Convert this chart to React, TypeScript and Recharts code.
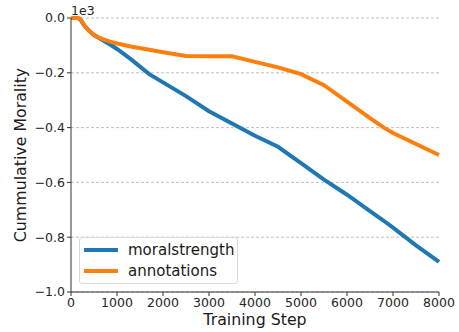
import React from 'react';
import { LineChart, Line, XAxis, YAxis, CartesianGrid } from 'recharts';

const steps = [0, 150, 200, 250, 300, 400, 500, 600, 700, 850, 1000, 1300, 1700, 2000, 2500, 3000, 3500, 4000, 4500, 5000, 5500, 6000, 6500, 6800, 7000, 7500, 8000];
// values in units of 1e3
const moralstrength = [0, 0, -0.005, -0.018, -0.03, -0.048, -0.062, -0.072, -0.082, -0.097, -0.113, -0.15, -0.205, -0.235, -0.285, -0.34, -0.385, -0.43, -0.47, -0.53, -0.59, -0.645, -0.705, -0.74, -0.765, -0.83, -0.89];
const annotations = [0, 0, -0.003, -0.016, -0.03, -0.048, -0.062, -0.071, -0.078, -0.086, -0.093, -0.104, -0.116, -0.125, -0.139, -0.14, -0.14, -0.16, -0.18, -0.205, -0.245, -0.305, -0.365, -0.4, -0.42, -0.46, -0.5];
const xTicks = [0, 1000, 2000, 3000, 4000, 5000, 6000, 7000, 8000];
const yTicks = [0, -0.2, -0.4, -0.6, -0.8, -1.0];

const seriesNames = ['moralstrength', 'annotations'];
const colors = ['#1f77b4', '#ff7f0e'];

const data = steps.map((s, i) => ({ step: s, moralstrength: moralstrength[i], annotations: annotations[i] }));

const font = 'DejaVu Sans, sans-serif';
const tickStyle = { fill: '#262626', fontSize: 12.5, fontFamily: font };
const labelSize = 15.8;

const fmtY = (v: number) => (v < 0 ? '\u2212' : '') + Math.abs(v).toFixed(1);

const LegendBox = () => (
    <div style={{
        position: 'absolute', left: 79, top: 237, width: 157, height: 45,
        border: '1px solid #d9d9d9', borderRadius: 3, background: 'rgba(255,255,255,0.8)',
        fontFamily: font, fontSize: 15, color: '#1a1a1a'
    }}>
        {seriesNames.map((n, i) => (
            <div key={n} style={{ position: 'absolute', left: 4, top: 2 + i * 21, height: 20, display: 'flex', alignItems: 'center' }}>
                <div style={{ width: 34, height: 4, background: colors[i], marginRight: 10 }} />
                <span>{n}</span>
            </div>
        ))}
    </div>
);

export default function App() {
    return (
        <div style={{ position: 'fixed', left: 0, top: 0, width: 459, height: 332, background: '#fff' }}>
            <LineChart width={459} height={332} data={data} margin={{ top: 18, right: 20, bottom: 0, left: 0 }}>
                <CartesianGrid vertical={false} stroke="#b0b0b0" strokeDasharray="3 2" strokeWidth={0.8} />
                <XAxis
                    dataKey="step" type="number" domain={[0, 8000]} ticks={xTicks}
                    height={40} tickSize={4} tickMargin={2} tick={tickStyle}
                    stroke="#333" strokeWidth={1}
                    label={{ value: 'Training Step', position: 'insideBottom', offset: 7, style: { fontSize: labelSize, fontFamily: font, fill: '#1a1a1a' } }}
                />
                <XAxis xAxisId="top" orientation="top" dataKey="step" type="number" domain={[0, 8000]} height={0} tick={false} tickLine={false} stroke="#333" />
                <YAxis
                    type="number" domain={[-1, 0]} ticks={yTicks} width={71}
                    tickSize={4} tickMargin={2} tick={tickStyle} tickFormatter={fmtY}
                    stroke="#333" strokeWidth={1}
                    label={{
                        content: (p: any) => {
                            const vb = p.viewBox || { y: 18, height: 274 };
                            const cy = vb.y + vb.height / 2;
                            return (
                                <text x={20} y={cy} transform={`rotate(-90, 20, ${cy})`} textAnchor="middle" dominantBaseline="central"
                                    style={{ fontSize: labelSize, fontFamily: font, fill: '#1a1a1a' }}>
                                    Cummulative Morality
                                </text>
                            );
                        }
                    }}
                />
                <YAxis yAxisId="right" orientation="right" type="number" domain={[-1, 0]} width={0} tick={false} tickLine={false} stroke="#333" />
                {seriesNames.map((n, i) => (
                    <Line key={n} dataKey={n} type="linear" stroke={colors[i]} strokeWidth={4} dot={false} isAnimationActive={false} />
                ))}
            </LineChart>
            <div style={{ position: 'absolute', left: 71, top: 3, fontFamily: font, fontSize: 12.5, color: '#262626' }}>1e3</div>
            <LegendBox />
        </div>
    );
}
